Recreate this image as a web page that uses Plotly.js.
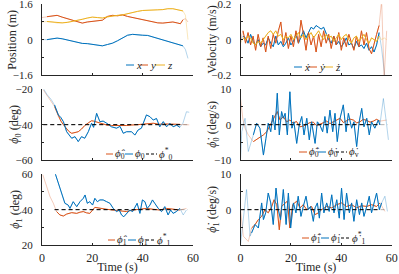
<!DOCTYPE html>
<html><head><meta charset="utf-8">
<script src="https://cdn.plot.ly/plotly-3.0.1.min.js"></script>
<style>html,body{margin:0;padding:0;background:#fff}#chart{width:399px;height:274px}</style>
</head><body><div id="chart"></div>
<script>
// ---------------- DATA ----------------
const xTickVals = [0, 20, 40, 60];

// Position (m)
const tPos = [0, 2, 4, 6, 8, 10, 12, 14, 16, 18, 20, 22, 24, 26, 28, 30, 32, 34, 36, 38, 40, 42, 44, 46, 48, 50, 52, 54, 55, 56, 57, 58];
const posX = [0.0, 0.0, 0.04, 0.07, 0.04, -0.02, -0.08, -0.14, -0.17, -0.18, -0.22, -0.27, -0.28, -0.22, -0.16, -0.05, 0.08, 0.2, 0.24, 0.21, 0.2, 0.19, 0.12, 0.05, -0.02, -0.1, -0.17, -0.24, -0.25, -0.28, -0.45, -0.85];
const posY = [1.0, 1.04, 1.08, 1.1, 1.02, 0.95, 0.88, 0.8, 0.75, 0.8, 0.83, 0.86, 0.88, 1.05, 1.1, 1.08, 1.12, 1.05, 1.0, 0.96, 0.9, 0.85, 0.8, 0.76, 0.75, 0.78, 0.8, 0.75, 0.72, 0.9, 0.95, 0.8];
const posZ = [0.8, 0.82, 0.8, 0.75, 0.76, 0.78, 0.82, 0.88, 0.92, 0.98, 1.02, 1.0, 0.98, 1.03, 1.08, 1.1, 1.12, 1.18, 1.22, 1.28, 1.32, 1.34, 1.34, 1.35, 1.36, 1.4, 1.4, 1.35, 1.33, 1.3, 1.1, 0.0];

// Velocity (m/s)
const tVel = [0,1,2,3,4,5,6,7,8,9,10,11,12,13,14,15,16,17,18,19,20,21,22,23,24,25,26,27,28,29,30,31,32,33,34,35,36,37,38,39,40,41,42,43,44,45,46,47,48,49,50,51,52,53,54,55,56,57,58];
const velX = [0.0,0.02,0.01,-0.02,0.03,-0.01,-0.03,0.0,-0.04,-0.02,-0.03,0.01,-0.02,-0.04,0.02,-0.03,-0.01,-0.04,-0.02,0.01,-0.03,-0.01,0.03,-0.02,0.02,0.05,0.01,0.04,0.07,0.06,0.08,0.07,0.06,0.07,0.03,0.0,-0.02,0.02,-0.03,-0.01,-0.04,-0.02,0.01,-0.03,-0.02,-0.05,-0.01,-0.04,-0.03,-0.05,-0.02,-0.06,-0.04,-0.07,-0.03,0.04,-0.05,-0.22,-0.3];
const velY = [0.0,0.05,-0.02,0.04,-0.03,0.02,-0.06,0.03,-0.04,0.01,-0.07,0.02,-0.05,0.03,-0.02,0.05,0.1,-0.03,0.04,-0.05,0.02,-0.04,0.05,-0.02,0.11,0.03,-0.06,0.04,-0.03,0.02,-0.07,0.03,-0.04,0.05,-0.02,0.03,-0.05,0.02,-0.03,0.04,-0.06,0.01,-0.04,0.03,-0.02,-0.06,0.02,-0.04,0.05,-0.03,0.04,-0.05,-0.08,-0.02,0.03,0.08,0.22,-0.22,0.05];
const velZ = [-0.02,0.01,0.0,0.02,0.01,-0.02,-0.03,-0.01,-0.02,0.0,0.02,0.04,0.05,0.03,0.05,0.02,0.03,0.0,0.02,0.01,0.03,0.0,0.02,0.04,0.01,0.03,0.0,0.02,0.04,0.01,0.03,0.05,0.02,0.0,0.03,0.01,0.02,-0.01,0.01,0.03,0.0,0.02,0.03,0.0,-0.02,0.01,0.02,-0.01,0.01,0.03,0.0,-0.02,0.01,0.0,-0.01,0.02,0.0,0.01,0.0];

// phi0 (deg)
const tPhi0 = [0.5,2,3.5,5,6.5,7.5,8.5,9.8,10.8,11.8,13.1,14.4,15.7,17,18.4,19.7,20.5,21.7,23,24.3,25.7,27.6,29.6,31,32.3,33.6,35.6,36.9,38.2,39.5,41.5,42.9,44.2,45.5,46.8,48.2,49.5,50.8,52.1,53.5,54.8,56,57.4,58.5];
const phi0 = [-19.4,-23,-25.5,-28.9,-34.5,-36,-38.3,-44,-46,-47.7,-46.8,-49.6,-46.8,-47.7,-44,-39.2,-41.5,-33.6,-38.3,-38,-39.2,-41.2,-42,-41,-44.9,-44,-44,-45.9,-43,-42,-34.5,-35.5,-37.4,-36.5,-41.2,-38.3,-41.2,-39.2,-41.2,-40.3,-41.5,-39.2,-32.7,-33];
const phi0Hat = [-20.3,-23.5,-26,-29.8,-35.4,-38,-40,-42.5,-44,-44.9,-44.5,-44,-42.5,-40.5,-39,-37.8,-38,-38.5,-39.2,-39.8,-40.2,-40.5,-40.6,-40.5,-40.8,-40.5,-40.2,-40.3,-40,-39.8,-39.5,-39.3,-39.2,-39.5,-39.8,-39.6,-39.7,-39.5,-39.6,-39.6,-39.8,-40,-40.2,-40.1];
const tPhi0Ref = [0.5, 55, 58.5];
const phi0Ref = [-40, -40, -40];

// phi0 dot (deg/s)
const tDphi0 = [0,0.5,1.8,3.1,5.1,6.4,7.7,9.1,10.1,11,12,12.8,13.7,14.6,15.4,16.3,17,17.7,18.6,19.6,20.4,21.2,22.3,23.3,24.3,25.2,26.3,27.3,28.2,29.6,30.5,31.5,32.6,33.5,34.4,35.5,36.6,37.5,38.4,39.5,40.8,41.9,42.8,44.1,45,46.1,47.1,48.1,49,50.1,51.1,52,53.3,54.7,55.3,56.7,58,58.7];
const dphi0 = [-10,-2,1.8,-7.6,-2.9,0.4,-1,-8.6,-3.9,0.4,-2,2.7,-1.5,8.9,-2.9,3.7,1.8,3.2,-2.9,9.3,-1,0.8,-5.3,-0.1,2.3,-2.9,1.8,-4.3,0.8,-5.3,0.8,-0.1,-2,2.3,-2.4,4.1,-2,3.2,-4.8,1.8,5.6,-2,3.2,-1,0.8,-6.2,0.8,4.6,-0.6,1.8,-2.9,0.8,-1,1.3,-0.1,7.4,-0.1,-4.3];
const tDphi0Hat = [0,0.9,1.8,3.1,5.1,7.1,9.1,10.4,11.7,13,13.7,14.6,15.7,17,18.3,19.6,20.9,22.2,23.6,25,26.3,27.6,28.9,30.2,31.5,32.8,34.2,35.5,36.8,38.1,39.5,40.8,42.1,43.4,44.8,46.1,47.4,48.7,50.1,51.4,52.7,54,55.3,58];
const dphi0Hat = [7.4,1.8,-1,-2.9,-4.8,-3.9,-2.9,-2,-0.1,1.8,2.7,3.7,1.3,2.3,0.8,1.3,0.4,0.9,-0.6,-0.4,0.1,0.6,0.7,-0.3,0.1,0.5,1,0.3,0.8,1.4,1.8,0.6,1,1.6,1.3,0.5,0.8,1.5,1.2,0.7,1,1.5,1,1.3];
const tDphi0Ref = [0, 55.5, 58.5];
const dphi0Ref = [0, 0, 0];

// phi1 (deg)
const tPhi1 = [4.9,6.5,7.8,9.1,10.4,11.1,12.4,13.8,15.1,16.4,17.1,18,19,20.1,21,22,23,24.3,25.7,27,28.3,29.6,30.7,31.6,32.5,33.6,34.9,36,36.9,37.8,38.9,39.9,40.9,41.8,42.9,43.9,44.8,46.2,47.5,48.8,50.1,51.1,52.1,53.4,54.8,56.1,57.4];
const phi1 = [62,54.9,48.3,43.6,42.6,40.7,44.5,41.7,44.5,46.4,48.3,43.6,44.5,42.6,46.4,44.5,45.5,45.5,44.5,43.6,40.7,38.9,39.8,37,36,37.9,39.8,38.9,41.7,43.6,37.9,45.5,44.5,40.7,42.6,45.5,43.6,40.7,38.9,41.7,37,39.8,37.9,38.9,40.7,37,39.8];
const tPhi1Hat = [0.3,1.9,3.2,4.5,5.8,7.1,8.5,9.8,11.8,13.8,15.1,16.4,17.7,19,21,23,25.7,28.3,31,33.6,36.2,38.9,41.5,44.2,46.8,49.5,52.1,54.8,57.4];
const phi1Hat = [59.8,53,47.3,43.6,38.9,37,36.4,37.5,38.3,37.9,38.6,38.9,38.2,37.9,41.3,40.7,40.2,39.8,39.4,38.9,39.8,40.2,40.7,40.2,39.8,40.7,40.2,39.8,40.7];
const tPhi1Ref = [5, 55, 58];
const phi1Ref = [40, 40, 40];

// phi1 dot (deg/s)
const tDphi1 = [0,1.1,2.4,3.8,4.4,5.8,7.1,8.4,9.1,10,11,12,13,14.1,15,15.9,17,18.1,19,19.9,21,22,22.9,24,24.9,26,26.9,27.8,28.9,29.6,30.5,31.3,32.2,33.1,34.2,35.2,36.2,37.1,38.2,39.2,40.1,41.1,42.1,43.2,44.1,45,46.1,47.2,48.1,49,50.1,51.1,52,53,54,55.1,56,57.3,58.3];
const dphi1 = [-9.9,-2.8,5.7,-7.5,-6.6,-4.2,-5.2,1.9,-2.8,-0.9,4.7,1.9,-4.2,6.1,0,-2.8,5.7,-4.2,4.7,-5.2,1.9,-0.9,3.8,-1.9,0.9,3.8,0,0.9,-3.3,0.5,1.9,-2.4,4.7,-0.9,1.9,-0.5,4.2,-0.9,2.8,-2.4,6.1,-2.8,4.7,-0.9,1.9,-3.3,2.8,-1.4,1.9,-1.9,0.9,3.8,-0.9,2.4,4.7,0,1.9,3.8,-0.5];
const tDphi1Hat = [0,1.1,3.1,4.4,5.8,7.1,8.4,9.7,11,12.4,13.3,14.4,15.4,16.3,17.7,18.6,19.6,20.7,22.3,23.6,24.9,26.3,28.2,29.6,30.9,32.2,34.2,36.2,38.2,40.1,42.1,44.1,46.1,48.1,50.1,52,54,55.3,57.3];
const dphi1Hat = [0,-7.5,-9,-5.2,-4.2,-2.8,-1.9,0,-0.9,0.9,2.8,1.4,-5.7,0.9,1.9,2.4,-5.2,1.4,2.4,0.5,1.4,0,0.9,-1.4,-0.9,0,0.9,0.5,1.4,1.9,0.9,1.4,0.5,1.1,0.9,1.4,0.9,1.9,-0.5];
const tDphi1Ref = [0, 55.5, 58];
const dphi1Ref = [0, 0, 0];

// ---------------- STYLE / LAYOUT ----------------
const BLUE = '#0072BD', RED = '#D95319', YEL = '#EDB120', BLK = '#000000', AX = '#262626';
const FONT = '"Liberation Serif", "Times New Roman", Times, serif';
const W = 399, H = 274;
const fx = p => p / W, fy = p => 1 - p / H;
const cols = [[42, 193], [240.5, 391.7]];
const rows = [[4.3, 75], [89.3, 160], [174.3, 245]];
const DASH = '4px,3px';

const traces = [];
function addSeries(ax, t, v, color, t0, t1, dash) {
  const sfx = ax === 1 ? '' : String(ax);
  const base = {xaxis: 'x' + sfx, yaxis: 'y' + sfx, mode: 'lines', showlegend: false, hoverinfo: 'skip'};
  traces.push(Object.assign({}, base, {x: t, y: v, opacity: 0.3, line: {color: color, width: 1, dash: dash || 'solid'}}));
  const ts = [], vs = [];
  t.forEach((tt, i) => { if (tt >= t0 && tt <= t1) { ts.push(tt); vs.push(v[i]); } });
  traces.push(Object.assign({}, base, {x: ts, y: vs, line: {color: color, width: 1, dash: dash || 'solid'}}));
}

addSeries(1, tPos, posX, BLUE, 2, 56);
addSeries(1, tPos, posY, RED, 2, 56);
addSeries(1, tPos, posZ, YEL, 2, 56);

addSeries(2, tVel, velX, BLUE, 1, 55);
addSeries(2, tVel, velY, RED, 1, 55);
addSeries(2, tVel, velZ, YEL, 1, 55);

addSeries(3, tPhi0, phi0Hat, RED, 5, 55);
addSeries(3, tPhi0, phi0, BLUE, 5, 55);
addSeries(3, tPhi0Ref, phi0Ref, BLK, 0, 55, DASH);

addSeries(4, tDphi0Hat, dphi0Hat, RED, 5, 55.5);
addSeries(4, tDphi0, dphi0, BLUE, 5, 55.5);
addSeries(4, tDphi0Ref, dphi0Ref, BLK, 0, 55.5, DASH);

addSeries(5, tPhi1Hat, phi1Hat, RED, 5, 55);
addSeries(5, tPhi1, phi1, BLUE, 4.9, 55);
addSeries(5, tPhi1Ref, phi1Ref, BLK, 5, 55, DASH);

addSeries(6, tDphi1Hat, dphi1Hat, RED, 4.4, 55.5);
addSeries(6, tDphi1, dphi1, BLUE, 4.4, 56);
addSeries(6, tDphi1Ref, dphi1Ref, BLK, 0, 55.5, DASH);

const tickFont = {family: FONT, size: 12, color: AX};
const yTickFont = {family: FONT, size: 11, color: AX};
const titleFont = {family: FONT, size: 12, color: AX};
function xAxis(col, isBottom) {
  const a = {
    domain: [fx(cols[col][0]), fx(cols[col][1])],
    range: [0, 60], tickvals: xTickVals, showticklabels: isBottom,
    showgrid: false, zeroline: false, showline: true, linecolor: AX, linewidth: 1,
    ticks: 'inside', ticklen: 2, tickcolor: AX, tickfont: tickFont, automargin: false,
    ticklabelstandoff: 2, ticklabeloverflow: 'allow'
  };
  if (isBottom) a.title = {text: 'Time (s)', font: titleFont, standoff: 1};
  return a;
}
function yAxis(row, range, tickvals, minor, anchor) {
  return {
    domain: [fy(rows[row][1]), fy(rows[row][0])],
    range: range, tickvals: tickvals, anchor: anchor,
    showgrid: false, zeroline: false, showline: true, linecolor: AX, linewidth: 1,
    ticks: 'inside', ticklen: 2, tickcolor: AX, tickfont: yTickFont, automargin: false,
    ticklabelstandoff: 6, ticklabeloverflow: 'allow',
    minor: {tickvals: minor, ticks: 'inside', ticklen: 2, tickcolor: AX, showgrid: false}
  };
}

const layout = {
  width: W, height: H, margin: {l: 0, r: 0, t: 0, b: 0},
  font: {family: FONT, size: 12, color: AX},
  paper_bgcolor: '#fff', plot_bgcolor: 'rgba(0,0,0,0)', showlegend: false,
  xaxis: Object.assign(xAxis(0, false), {anchor: 'y'}),
  xaxis2: Object.assign(xAxis(1, false), {anchor: 'y2'}),
  xaxis3: Object.assign(xAxis(0, false), {anchor: 'y3'}),
  xaxis4: Object.assign(xAxis(1, false), {anchor: 'y4'}),
  xaxis5: Object.assign(xAxis(0, true), {anchor: 'y5'}),
  xaxis6: Object.assign(xAxis(1, true), {anchor: 'y6'}),
  yaxis: yAxis(0, [-1.6, 1.6], [-1.6, 0, 1.6], [-0.8, 0.8], 'x'),
  yaxis2: yAxis(0, [-0.2, 0.2], [-0.2, 0, 0.2], [-0.1, 0.1], 'x2'),
  yaxis3: yAxis(1, [-60, -20], [-60, -40, -20], [-50, -30], 'x3'),
  yaxis4: yAxis(1, [-10, 10], [-10, 0, 10], [-5, 5], 'x4'),
  yaxis5: yAxis(2, [20, 60], [20, 40, 60], [30, 50], 'x5'),
  yaxis6: yAxis(2, [-10, 10], [0, 10], [-5, 5], 'x6'),
  shapes: [], annotations: []
};

// y-axis titles (rotated, MATLAB placement)
const yTitles = [
  {text: 'Position (m)', x: 12, row: 0},
  {text: 'Velocity (m/s)', x: 212, row: 0},
  {text: '<i>ϕ</i><sub>0</sub> (deg)', x: 15, row: 1},
  {text: '<i>ϕ̇</i><sub>0</sub> (deg/s)', x: 213, row: 1},
  {text: '<i>ϕ</i><sub>1</sub> (deg)', x: 16, row: 2},
  {text: '<i>ϕ̇</i><sub>1</sub> (deg/s)', x: 213, row: 2}];
yTitles.forEach(t => {
  layout.annotations.push({xref: 'paper', yref: 'paper', x: fx(t.x), y: fy((rows[t.row][0] + rows[t.row][1]) / 2),
    xanchor: 'center', yanchor: 'middle', textangle: -90, text: t.text, showarrow: false,
    font: {family: FONT, size: 12, color: AX}});
});

// custom compact legends (MATLAB style, no box)
function legend(y, items) {
  items.forEach(it => {
    layout.shapes.push({type: 'line', xref: 'paper', yref: 'paper', x0: fx(it.x0), x1: fx(it.x1), y0: fy(y), y1: fy(y),
      line: {color: it.color, width: 1, dash: it.dash || 'solid'}});
    layout.annotations.push({xref: 'paper', yref: 'paper', x: fx(it.x1 + 1), y: fy(y), xanchor: 'left', yanchor: 'middle',
      text: it.label, showarrow: false, font: {family: FONT, size: 11, color: AX}, borderpad: 0});
  });
}
legend(65, [
  {x0: 126, x1: 134, color: BLUE, label: '<i>x</i>'},
  {x0: 140, x1: 148, color: RED, label: '<i>y</i>'},
  {x0: 155, x1: 165, color: YEL, label: '<i>z</i>'}]);
legend(67, [
  {x0: 294, x1: 302, color: BLUE, label: '<i>ẋ</i>'},
  {x0: 308, x1: 317, color: RED, label: '<i>ẏ</i>'},
  {x0: 324, x1: 333, color: YEL, label: '<i>ż</i>'}]);
legend(154, [
  {x0: 106, x1: 113, color: RED, label: '<i>ϕ̂</i><sub>0</sub>'},
  {x0: 125, x1: 133, color: BLUE, label: '<i>ϕ</i><sub>0</sub>'},
  {x0: 146, x1: 157, color: BLK, dash: '3px,2px', label: '<i>ϕ</i><sup>*</sup><sub>0</sub>'}]);
legend(152, [
  {x0: 299, x1: 307, color: RED, label: '<i>ϕ̂̇</i><sub>0</sub>'},
  {x0: 318, x1: 326, color: BLUE, label: '<i>ϕ̇</i><sub>0</sub>'},
  {x0: 336, x1: 347, color: BLK, dash: '3px,2px', label: '<i>ϕ̇</i><sub>v</sub>'}]);
legend(240, [
  {x0: 108, x1: 115, color: RED, label: '<i>ϕ̂</i><sub>1</sub>'},
  {x0: 128, x1: 136, color: BLUE, label: '<i>ϕ</i><sub>1</sub>'},
  {x0: 146, x1: 155, color: BLK, dash: '3px,2px', label: '<i>ϕ</i><sup>*</sup><sub>1</sub>'}]);
legend(238, [
  {x0: 302, x1: 309, color: RED, label: '<i>ϕ̂̇</i><sub>1</sub>'},
  {x0: 321, x1: 329, color: BLUE, label: '<i>ϕ̇</i><sub>1</sub>'},
  {x0: 341, x1: 350, color: BLK, dash: '3px,2px', label: '<i>ϕ̇</i><sup>*</sup><sub>1</sub>'}]);

Plotly.newPlot('chart', traces, layout, {staticPlot: true, displayModeBar: false});
</script></body></html>
